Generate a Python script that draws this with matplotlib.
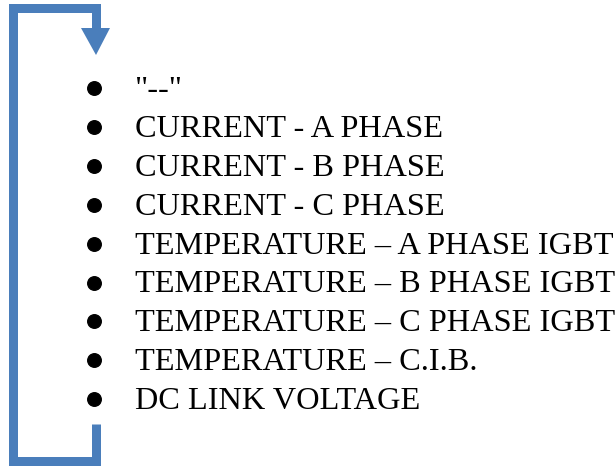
import matplotlib
matplotlib.use("Agg")
import matplotlib.pyplot as plt
from matplotlib.patches import Polygon

items = ['"--"', "CURRENT - A PHASE", "CURRENT - B PHASE", "CURRENT - C PHASE",
         "TEMPERATURE \u2013 A PHASE IGBT", "TEMPERATURE \u2013 B PHASE IGBT",
         "TEMPERATURE \u2013 C PHASE IGBT", "TEMPERATURE \u2013 C.I.B.", "DC LINK VOLTAGE"]

blue = "#4A7EBB"
fig = plt.figure(figsize=(6.16, 4.67), dpi=100)
ax = fig.add_axes([0, 0, 1, 1])
ax.set_xlim(0, 616)
ax.set_ylim(467, 0)
ax.axis("off")

lw = 9 * 72 / 100
# bracket with arrow
ax.plot([96, 96, 13, 13, 96, 96], [30, 8, 8, 461, 461, 424], color=blue, lw=lw,
        solid_joinstyle="miter", solid_capstyle="butt")
ax.add_patch(Polygon([[81, 28], [110, 28], [96, 55]], closed=True, color=blue, lw=0))

y0, dy = 88, 38.9
for i, t in enumerate(items):
    y = y0 + i * dy
    ax.scatter([94], [y], s=95, color="black", zorder=3)
    ax.text(135, y + 10, t, fontsize=23.3, family="Liberation Serif", va="baseline",
            ha="left", color="black")

fig.savefig("out.png", dpi=100)
